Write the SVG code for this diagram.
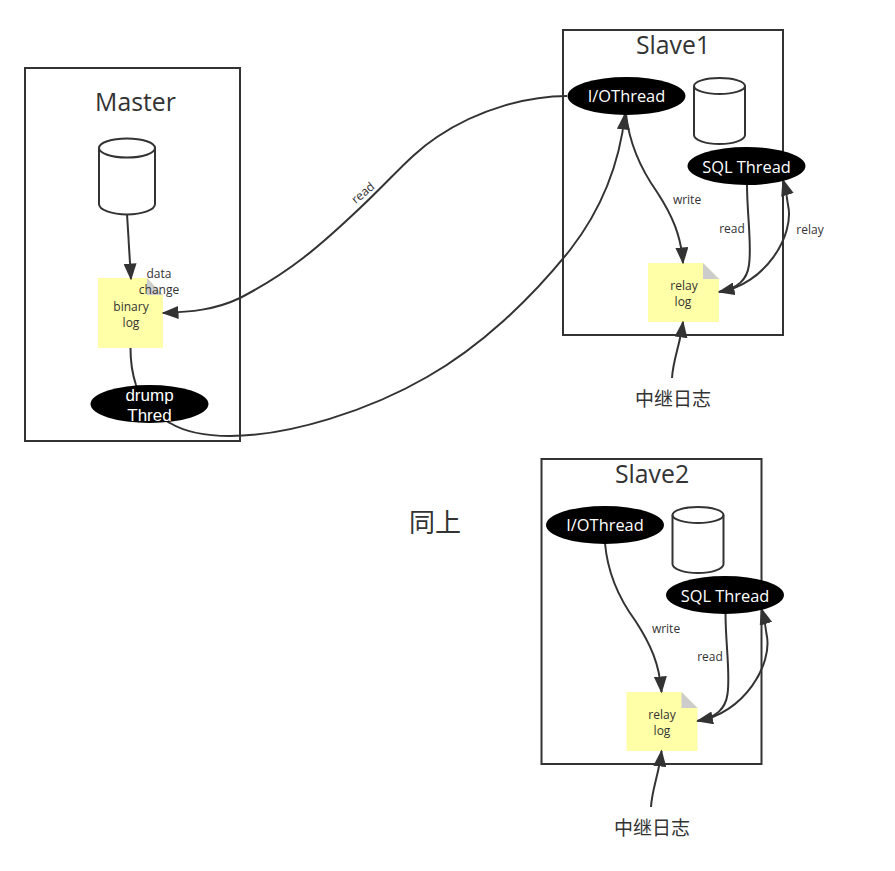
<svg xmlns="http://www.w3.org/2000/svg" width="895" height="871" viewBox="0 0 895 871">
<defs>
<marker id="arrow" viewBox="0 0 17 13" refX="15.500" refY="6.500" markerWidth="17" markerHeight="13" markerUnits="userSpaceOnUse" orient="auto"><path d="M0,0 L17,6.500 L0,13 Z" fill="#333"/></marker>
</defs>
<style>
text{font-family:"Open Sans","Noto Sans","Noto Sans CJK SC",sans-serif;text-anchor:middle;fill:#333}
.box{fill:#fff;stroke:#333;stroke-width:2}
.cyl{fill:#fff;stroke:#333;stroke-width:2}
.ell{fill:#000}
.ell-t{fill:#fff;font-size:16.400px}
.ell-w{font-family:"Liberation Sans",sans-serif;font-size:17px}
.note{fill:#ffffa8}
.fold{fill:#ccc}
.t{font-size:12px}
.title{font-size:24.800px}
.zh{font-size:19px}
.edge{fill:none;stroke:#333;stroke-width:2}
.arr{marker-end:url(#arrow)}
</style>
<rect width="895" height="871" fill="#fff"/>
<g id="master-box"><rect class="box" x="25" y="68" width="215" height="373"/><text class="title" x="135.500" y="111">Master</text></g>
<g id="slave1-box"><rect class="box" x="563" y="30" width="220" height="305"/><text class="title" x="673" y="54">Slave1</text></g>
<g id="slave2-box"><rect class="box" x="541.500" y="459" width="220" height="305"/><text class="title" x="652" y="483">Slave2</text></g>
<g id="binary-log"><path class="note" d="M98,278 H147 L163,295 V348 H98 Z"/><path class="fold" d="M147,278 L163,295 H147 Z"/><text class="t" x="131" y="311">binary<tspan x="131" dy="16">log</tspan></text></g>
<g id="slave1-relay"><path class="note" d="M648,263 H703 L719,279 V322 H648 Z"/><path class="fold" d="M703,263 L719,279 H703 Z"/><text class="t" x="684" y="290">relay<tspan x="683" dy="16">log</tspan></text></g>
<g id="slave2-relay"><path class="note" d="M626.500,692 H681.500 L697.500,708 V751 H626.500 Z"/><path class="fold" d="M681.500,692 L697.500,708 H681.500 Z"/><text class="t" x="662" y="719">relay<tspan x="662" dy="16">log</tspan></text></g>
<g id="connectors">
<path class="edge arr" d="M127,214 L131,279"/>
<path class="edge arr" d="M130.500,348 C130.500,362 132,373 136,385 C142,400 155,415 170,423 C185,432 205,436 230,436 C290,436 370,410 427,377 C480,347 530,300 570,250 C605,205 620,160 625,114"/>
<path class="edge arr" d="M567,96 C530,96 480,108 437,137 C410,155 395,175 360,208 C320,246 290,272 240,298 C215,310 190,312 163,313"/>
<path class="edge arr" d="M626,114 C630,150 645,175 657,192 C672,215 681,235 683,263"/>
<path class="edge arr" d="M747,184 C747,215 752,245 749,265 C747,280 738,288 719,292"/>
<path class="edge arr" d="M719,292 C765,285 795,235 788,205 C787,195 786,190 783,180"/>
<path class="edge arr" d="M672,378 C673,360 680,345 683,322"/>
<path class="edge arr" d="M605,543 C608,579 623,604 635.500,621 C650.500,644 659.500,664 661.500,692"/>
<path class="edge arr" d="M725.500,613 C725.500,644 730.500,674 727.500,694 C725.500,709 716.500,717 697.500,721"/>
<path class="edge arr" d="M697.500,721 C743.500,714 773.500,664 766.500,634 C765.500,624 764.500,619 761.500,609"/>
<path class="edge arr" d="M651,807 C652,789 659,774 661.500,751"/>
</g>
<g id="master-db"><path class="cyl" d="M99,148 A28,9.500 0 0 1 155,148 V204 A28,10.500 0 0 1 99,204 Z"/><path class="edge" d="M99,148 A28,9.500 0 0 0 155,148"/></g>
<g id="drump-thred"><ellipse class="ell" cx="149.500" cy="404" rx="59" ry="19"/><text class="ell-t ell-w" x="149.500" y="401">drump</text><text class="ell-t ell-w" x="149.500" y="421">Thred</text></g>
<g id="slave1-io"><ellipse class="ell" cx="626.500" cy="96" rx="59" ry="19"/><text class="ell-t" x="626.500" y="102">I/OThread</text></g>
<g id="slave1-db"><path class="cyl" d="M694,86 A25.500,8 0 0 1 745,86 V135 A25.500,9 0 0 1 694,135 Z"/><path class="edge" d="M694,86 A25.500,8 0 0 0 745,86"/></g>
<g id="slave1-sql"><ellipse class="ell" cx="746.500" cy="166" rx="59" ry="19"/><text class="ell-t" x="746.500" y="173">SQL Thread</text></g>
<g id="slave1-note"><text class="zh" x="673" y="406">中继日志</text></g>
<g id="slave2-io"><ellipse class="ell" cx="605" cy="525" rx="59" ry="19"/><text class="ell-t" x="605" y="531">I/OThread</text></g>
<g id="slave2-db"><path class="cyl" d="M672.500,515 A25.500,8 0 0 1 723.500,515 V564 A25.500,9 0 0 1 672.500,564 Z"/><path class="edge" d="M672.500,515 A25.500,8 0 0 0 723.500,515"/></g>
<g id="slave2-sql"><ellipse class="ell" cx="725" cy="595" rx="59" ry="19"/><text class="ell-t" x="725" y="602">SQL Thread</text></g>
<g id="slave2-note"><text class="zh" x="652" y="835">中继日志</text></g>
<g id="same-note"><text x="435" y="532" font-size="26">同上</text></g>
<g id="edge-labels">
<text class="t" x="159" y="278">data<tspan x="159" dy="16">change</tspan></text>
<text class="t" transform="translate(363,193) rotate(-40)" y="4">read</text>
<text class="t" x="687" y="204">write</text><text class="t" x="732" y="233">read</text><text class="t" x="810" y="234">relay</text>
<text class="t" x="666" y="633">write</text><text class="t" x="710" y="661">read</text>
</g>
</svg>
